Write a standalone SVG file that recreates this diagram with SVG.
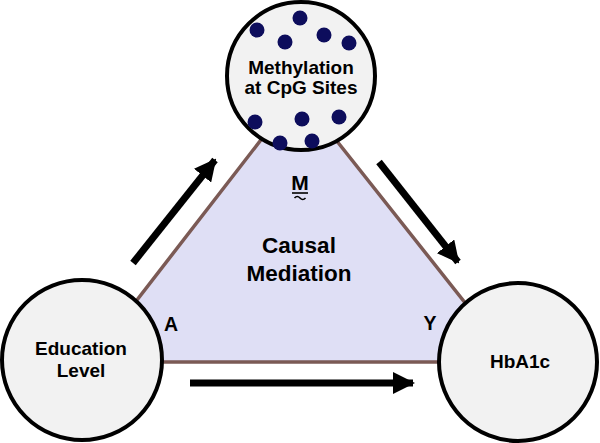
<svg xmlns="http://www.w3.org/2000/svg" width="600" height="443" viewBox="0 0 600 443">
<defs>
<style>
.node{fill:#f2f2f2;stroke:#000;stroke-width:4}
.lbl{font-family:"Liberation Sans",Arial,sans-serif;font-weight:bold;fill:#000;text-anchor:middle}
.dot{fill:#0d0d5c}
.arrow{stroke:#000;stroke-width:7;fill:none;marker-end:url(#head)}
</style>
<marker id="head" markerUnits="userSpaceOnUse" markerWidth="22" markerHeight="22" viewBox="0 0 22 22" refX="20" refY="11" orient="auto">
<path d="M0,0 L22,11 L0,22 Z" fill="#000"/>
</marker>
</defs>
<rect width="600" height="443" fill="#fff"/>
<g id="triangle">
<polygon points="298,92 89,362 512,362" fill="#dfdff5" stroke="#7b5a55" stroke-width="3.5" stroke-linejoin="miter"/>
<text class="lbl" x="299" y="253" font-size="22.5">Causal</text>
<text class="lbl" x="299" y="281" font-size="22.5">Mediation</text>
</g>
<g id="connectors">
<line class="arrow" x1="133" y1="263" x2="215" y2="160"/>
<line class="arrow" x1="379" y1="162" x2="458" y2="262"/>
<line class="arrow" x1="190" y1="383" x2="413" y2="383"/>
</g>
<g id="node-M">
<circle class="node" cx="301" cy="76" r="74"/>
<circle class="dot" cx="257" cy="30" r="7.5"/>
<circle class="dot" cx="300" cy="18" r="7.5"/>
<circle class="dot" cx="285" cy="42" r="7.5"/>
<circle class="dot" cx="324" cy="35" r="7.5"/>
<circle class="dot" cx="349" cy="43" r="7.5"/>
<circle class="dot" cx="255" cy="122" r="7.5"/>
<circle class="dot" cx="302" cy="119" r="7.5"/>
<circle class="dot" cx="339" cy="117" r="7.5"/>
<circle class="dot" cx="280" cy="143" r="7.5"/>
<circle class="dot" cx="312" cy="141" r="7.5"/>
<text class="lbl" x="301" y="74" font-size="19">Methylation</text>
<text class="lbl" x="301" y="94" font-size="19">at CpG Sites</text>
<text class="lbl" x="300" y="190" font-size="21">M</text>
<line x1="292" y1="193" x2="308" y2="193" stroke="#000" stroke-width="1.6"/>
<path d="M294.5,198 q2.75,-3 5.5,0 t5.5,0" fill="none" stroke="#000" stroke-width="1.6"/>
</g>
<g id="node-A">
<circle class="node" cx="82" cy="360" r="80"/>
<text class="lbl" x="81" y="355" font-size="19">Education</text>
<text class="lbl" x="81" y="377" font-size="19">Level</text>
<text class="lbl" x="171" y="331" font-size="19.5">A</text>
</g>
<g id="node-Y">
<circle class="node" cx="518" cy="362" r="79"/>
<text class="lbl" x="520" y="368" font-size="19">HbA1c</text>
<text class="lbl" x="430" y="330" font-size="19.5">Y</text>
</g>
</svg>
